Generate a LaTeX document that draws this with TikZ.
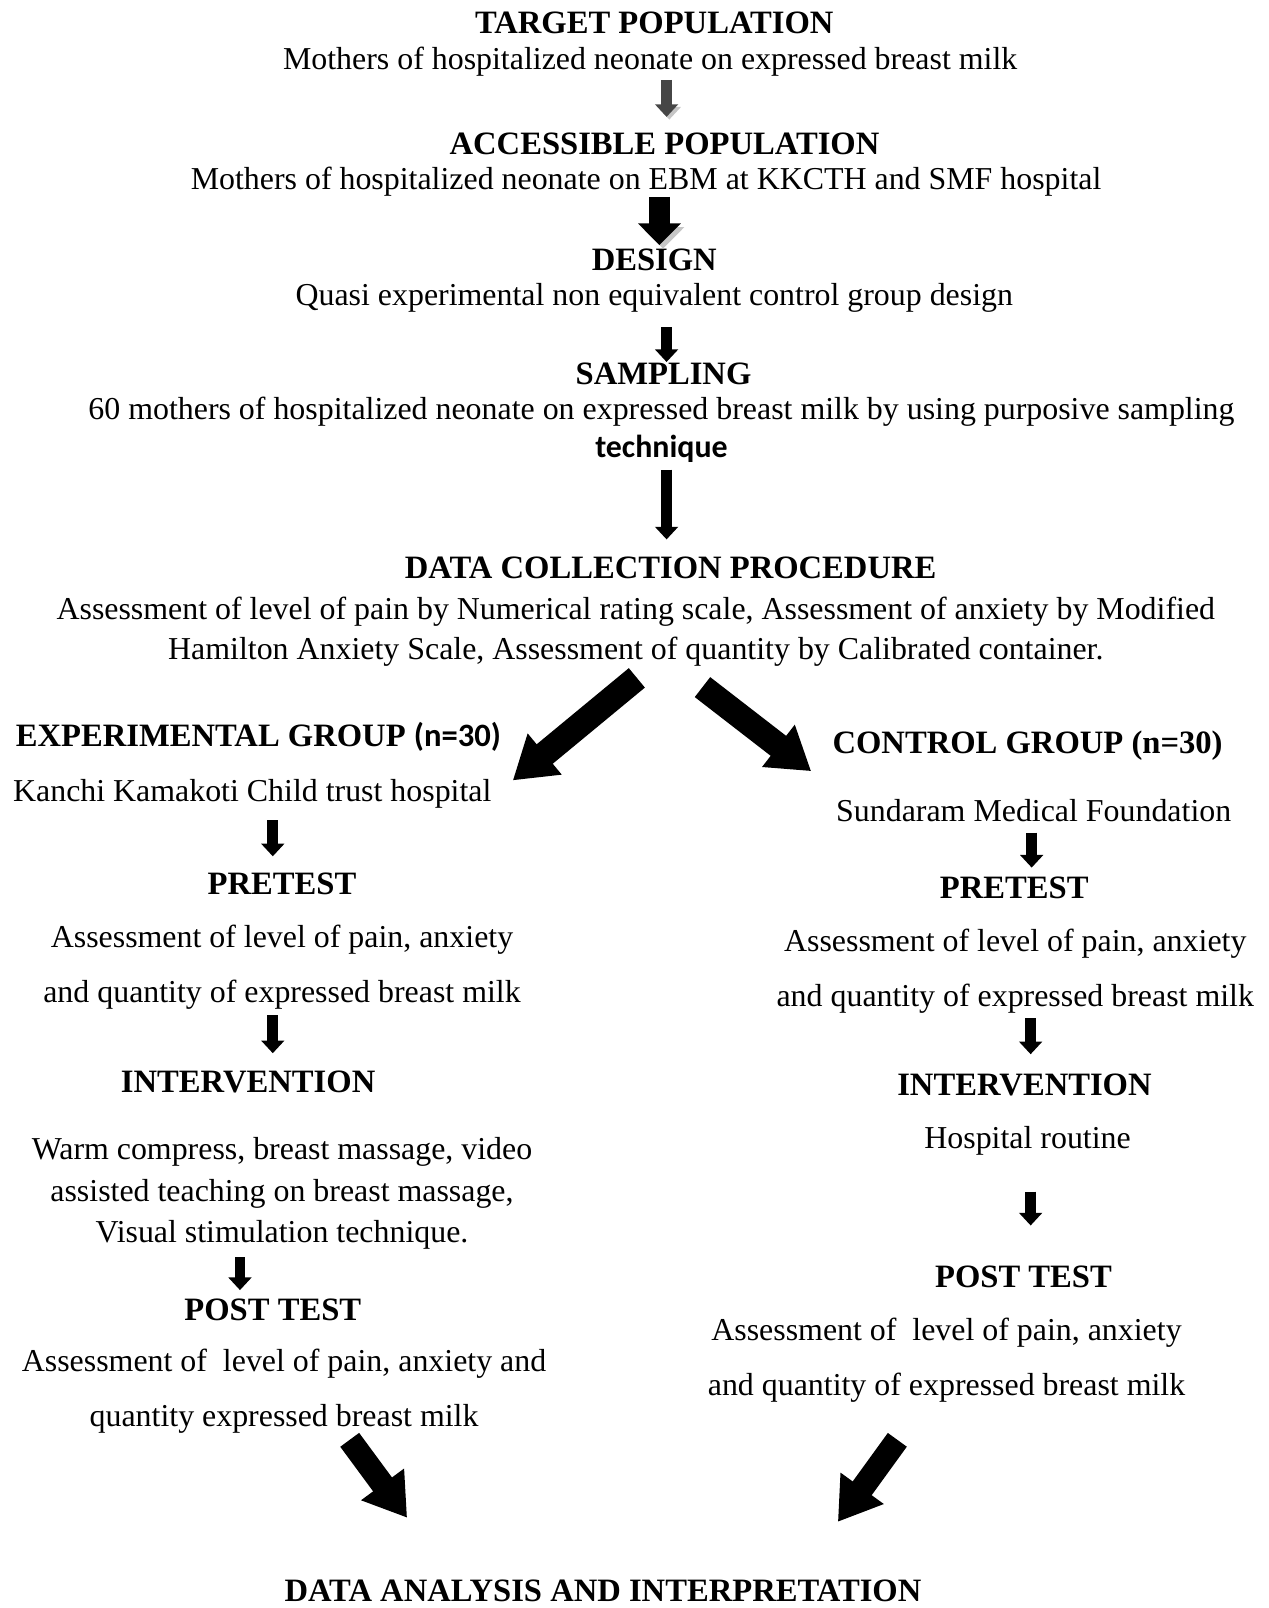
\documentclass[tikz,border=0pt]{standalone}
\usepackage{fontspec}
\setmainfont{Liberation Serif}
\newfontfamily\calib{Carlito}
\usetikzlibrary{arrows.meta}

\tikzset{
  txt/.style={inner sep=0pt, align=center, font=\fontsize{17.7}{21}\selectfont},
  hd/.style={txt, font=\fontsize{18.1}{21}\selectfont\bfseries},
  pil/.style={line width=6pt, -{Triangle[width=12.5pt,length=7pt]}},
  gpil/.style={pil, gray!55!black, preaction={draw=gray!45, transform canvas={shift={(1.5pt,-1.5pt)}}}},
  wpil/.style={line width=12pt, -{Triangle[width=23pt,length=12pt]}, preaction={draw=gray!45, transform canvas={shift={(2pt,-2pt)}}}},
  bigpil/.style={line width=14pt, -{Triangle[width=28pt,length=23pt]}},
}

\begin{document}
\begin{tikzpicture}[x=0.02cm, y=-0.02cm]
\useasboundingbox (0,0) rectangle (1237,1568);

% top part, one column
\node[hd]  (tpop)  at (638,22)  {TARGET POPULATION};
\node[txt] (tpopt) at (634,60)  {Mothers of hospitalized neonate on expressed breast milk};
\node[hd]  (acc)   at (648,140) {ACCESSIBLE POPULATION};
\node[txt] (acct)  at (630,177) {Mothers of hospitalized neonate on EBM at KKCTH and SMF hospital};
\node[hd]  (des)   at (638,253) {DESIGN};
\node[txt] (dest)  at (638,290) {Quasi experimental non equivalent control group design};
\node[hd]  (samp)  at (647,365) {SAMPLING};
\node[txt, font=\fontsize{17.7}{21}\selectfont] (sampt) at (645,419)
  {60 mothers of hospitalized neonate on expressed breast milk by using purposive sampling\\
   {\calib\bfseries technique}};
\node[hd]  (dcp)   at (654,554) {DATA COLLECTION PROCEDURE};
\node[txt, font=\fontsize{17.7}{22.7}\selectfont] (dcpt) at (620,616)
  {Assessment of level of pain by Numerical rating scale, Assessment of anxiety by Modified\\
   Hamilton Anxiety Scale, Assessment of quantity by Calibrated container.};

% experimental group
\node[hd]  (exp)   at (252,719) {EXPERIMENTAL GROUP {\calib(n=30)}};
\node[txt] (expt)  at (246,774) {Kanchi Kamakoti Child trust hospital};
\node[hd]  (pre1)  at (275,862) {PRETEST};
\node[txt, font=\fontsize{17.7}{30.6}\selectfont] (pre1t) at (275,943)
  {Assessment of level of pain, anxiety\\ and quantity of expressed breast milk};
\node[hd]  (int1)  at (242,1055) {INTERVENTION};
\node[txt, font=\fontsize{17.7}{23}\selectfont] (int1t) at (275,1164)
  {Warm compress, breast massage, video\\ assisted teaching on breast massage,\\ Visual stimulation technique.};
\node[hd]  (post1) at (266,1277) {POST TEST};
\node[txt, font=\fontsize{17.7}{30.6}\selectfont] (post1t) at (277,1357)
  {Assessment of\ \ level of pain, anxiety and\\ quantity expressed breast milk};

% control group
\node[hd]  (ctl)   at (1002,727) {CONTROL GROUP (n=30)};
\node[txt] (ctlt)  at (1008,790) {Sundaram Medical Foundation};
\node[hd]  (pre2)  at (989,866)  {PRETEST};
\node[txt, font=\fontsize{17.7}{30.6}\selectfont] (pre2t) at (990,947)
  {Assessment of level of pain, anxiety\\ and quantity of expressed breast milk};
\node[hd]  (int2)  at (999,1058) {INTERVENTION};
\node[txt] (int2t) at (1002,1112) {Hospital routine};
\node[hd]  (post2) at (998,1245) {POST TEST};
\node[txt, font=\fontsize{17.7}{30.6}\selectfont] (post2t) at (923,1326)
  {Assessment of\ \ level of pain, anxiety\\ and quantity of expressed breast milk};

\node[hd]  (dai)   at (588,1551) {DATA ANALYSIS AND INTERPRETATION};

% arrow end points
\coordinate (a1s) at (650,78);   \coordinate (a1e) at (650,114);
\coordinate (a2s) at (643,192);  \coordinate (a2e) at (643,239);
\coordinate (a3s) at (650,319);  \coordinate (a3e) at (650,353);
\coordinate (a4s) at (650,458);  \coordinate (a4e) at (650,526);
\coordinate (l1s) at (266,800);  \coordinate (l1e) at (266,835);
\coordinate (l2s) at (266,990);  \coordinate (l2e) at (266,1027);
\coordinate (l3s) at (234,1226); \coordinate (l3e) at (234,1258);
\coordinate (r1s) at (1006,812); \coordinate (r1e) at (1006,846);
\coordinate (r2s) at (1005,993); \coordinate (r2e) at (1005,1028);
\coordinate (r3s) at (1005,1162); \coordinate (r3e) at (1005,1195);

\draw[gpil] (a1s) -- (a1e);
\draw[wpil] (a2s) -- (a2e);
\foreach \a in {a3,a4,l1,l2,l3,r1,r2,r3}
  \draw[pil] (\a s) -- (\a e);

% big arrows
\coordinate (sl) at (621,661); \coordinate (el) at (500,761);
\coordinate (sr) at (685,670); \coordinate (er) at (791,752);
\coordinate (bl) at (341,1404); \coordinate (bel) at (397,1480);
\coordinate (br) at (875,1404); \coordinate (ber) at (817,1484);
\draw[bigpil] (sl) -- (el);
\draw[bigpil] (sr) -- (er);
\draw[bigpil, line width=13pt] (bl) -- (bel);
\draw[bigpil, line width=13pt] (br) -- (ber);
\end{tikzpicture}
\end{document}
